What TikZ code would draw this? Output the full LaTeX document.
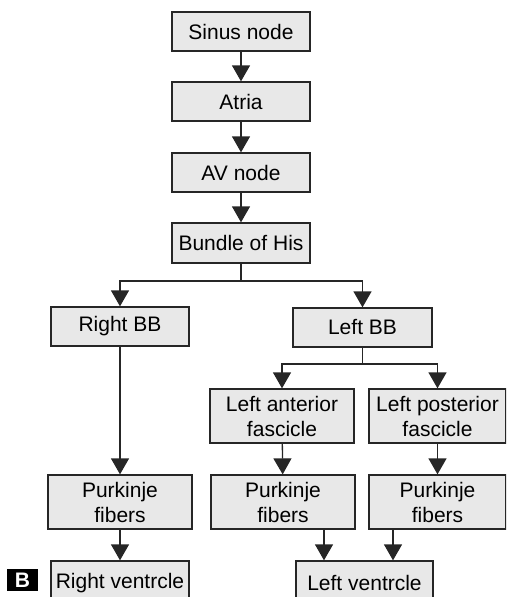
\documentclass[tikz,border=0pt]{standalone}
\usepackage{fontspec}
\setmainfont{Liberation Sans}
\usetikzlibrary{arrows.meta}

\tikzset{
    box/.style={draw=black!85, fill=black!9, line width=1.3pt, inner sep=0pt,
        align=center, font=\fontsize{21}{25}\selectfont},
    flow/.style={draw=black!85, line width=1.3pt, -{Triangle[width=18pt,length=16pt]}},
    link/.style={draw=black!85, line width=1.3pt}
}

\begin{document}
\begin{tikzpicture}[x=1pt, y=-1pt]
    \def\boxW{138pt}
    \def\boxH{39pt}

    \useasboundingbox (0,0) rectangle (506,597);
    \clip (0,0) rectangle (506,597);

    % Main chain: sinus node down to bundle of His
    \node[box, minimum width=\boxW, minimum height=\boxH] (sinus) at (241,31.5) {Sinus node};
    \node[box, minimum width=\boxW, minimum height=\boxH] (atria) at (241,101.5) {Atria};
    \node[box, minimum width=\boxW, minimum height=\boxH] (avnode) at (241,172.5) {AV node};
    \node[box, minimum width=\boxW, minimum height=40pt] (his) at (241,243) {Bundle of His};

    \draw[flow] (sinus) -- (atria);
    \draw[flow] (atria) -- (avnode);
    \draw[flow] (avnode) -- (his);

    % Bundle branches
    \node[box, minimum width=\boxW, minimum height=\boxH] (rightBB) at (120,326.5) {Right BB};
    \node[box, minimum width=139pt, minimum height=\boxH] (leftBB) at (362.5,327.5) {Left BB};

    \coordinate (hisSplit) at (241,281);
    \draw[link] (his) -- (hisSplit);
    \draw[flow] (hisSplit) -| (rightBB);
    \draw[flow] (hisSplit) -| (leftBB);

    % Left fascicles
    \node[box, minimum width=144pt, minimum height=54pt] (leftAnt) at (282,416) {Left anterior\\fascicle};
    \node[box, minimum width=137pt, minimum height=54pt] (leftPost) at (437.5,416) {Left posterior\\fascicle};

    \coordinate (leftSplit) at (362.5,364);
    \draw[link] (leftBB) -- (leftSplit);
    \draw[flow] (leftSplit) -| (leftAnt);
    \draw[flow] (leftSplit) -| (leftPost);

    % Purkinje fibers
    \node[box, minimum width=144pt, minimum height=54pt] (purkR) at (120,502) {Purkinje\\fibers};
    \node[box, minimum width=144pt, minimum height=54pt] (purkA) at (283,502) {Purkinje\\fibers};
    \node[box, minimum width=137pt, minimum height=54pt] (purkP) at (437.5,502) {Purkinje\\fibers};

    \draw[flow] (rightBB) -- (purkR);
    \draw[flow] (leftAnt) -- (purkA);
    \draw[flow] (leftPost) -- (purkP);

    % Ventricles (cut off at the bottom edge)
    \node[box, minimum width=\boxW, minimum height=44pt] (rightV) at (120,583) {Right ventrcle};
    \node[box, minimum width=137pt, minimum height=44pt] (leftV) at (364.5,583) {Left ventrcle};

    \draw[flow] (purkR) -- (rightV);
    \coordinate (purkAOut) at (324,529);
    \coordinate (purkPOut) at (393,529);
    \draw[flow] (purkAOut) -- (purkAOut |- leftV.north);
    \draw[flow] (purkPOut) -- (purkPOut |- leftV.north);

    % Panel label
    \node[fill=black, text=white, font=\fontsize{21}{21}\bfseries, minimum width=31pt,
        minimum height=22pt, inner sep=0pt] (panel) at (22.5,580) {B};
\end{tikzpicture}
\end{document}
